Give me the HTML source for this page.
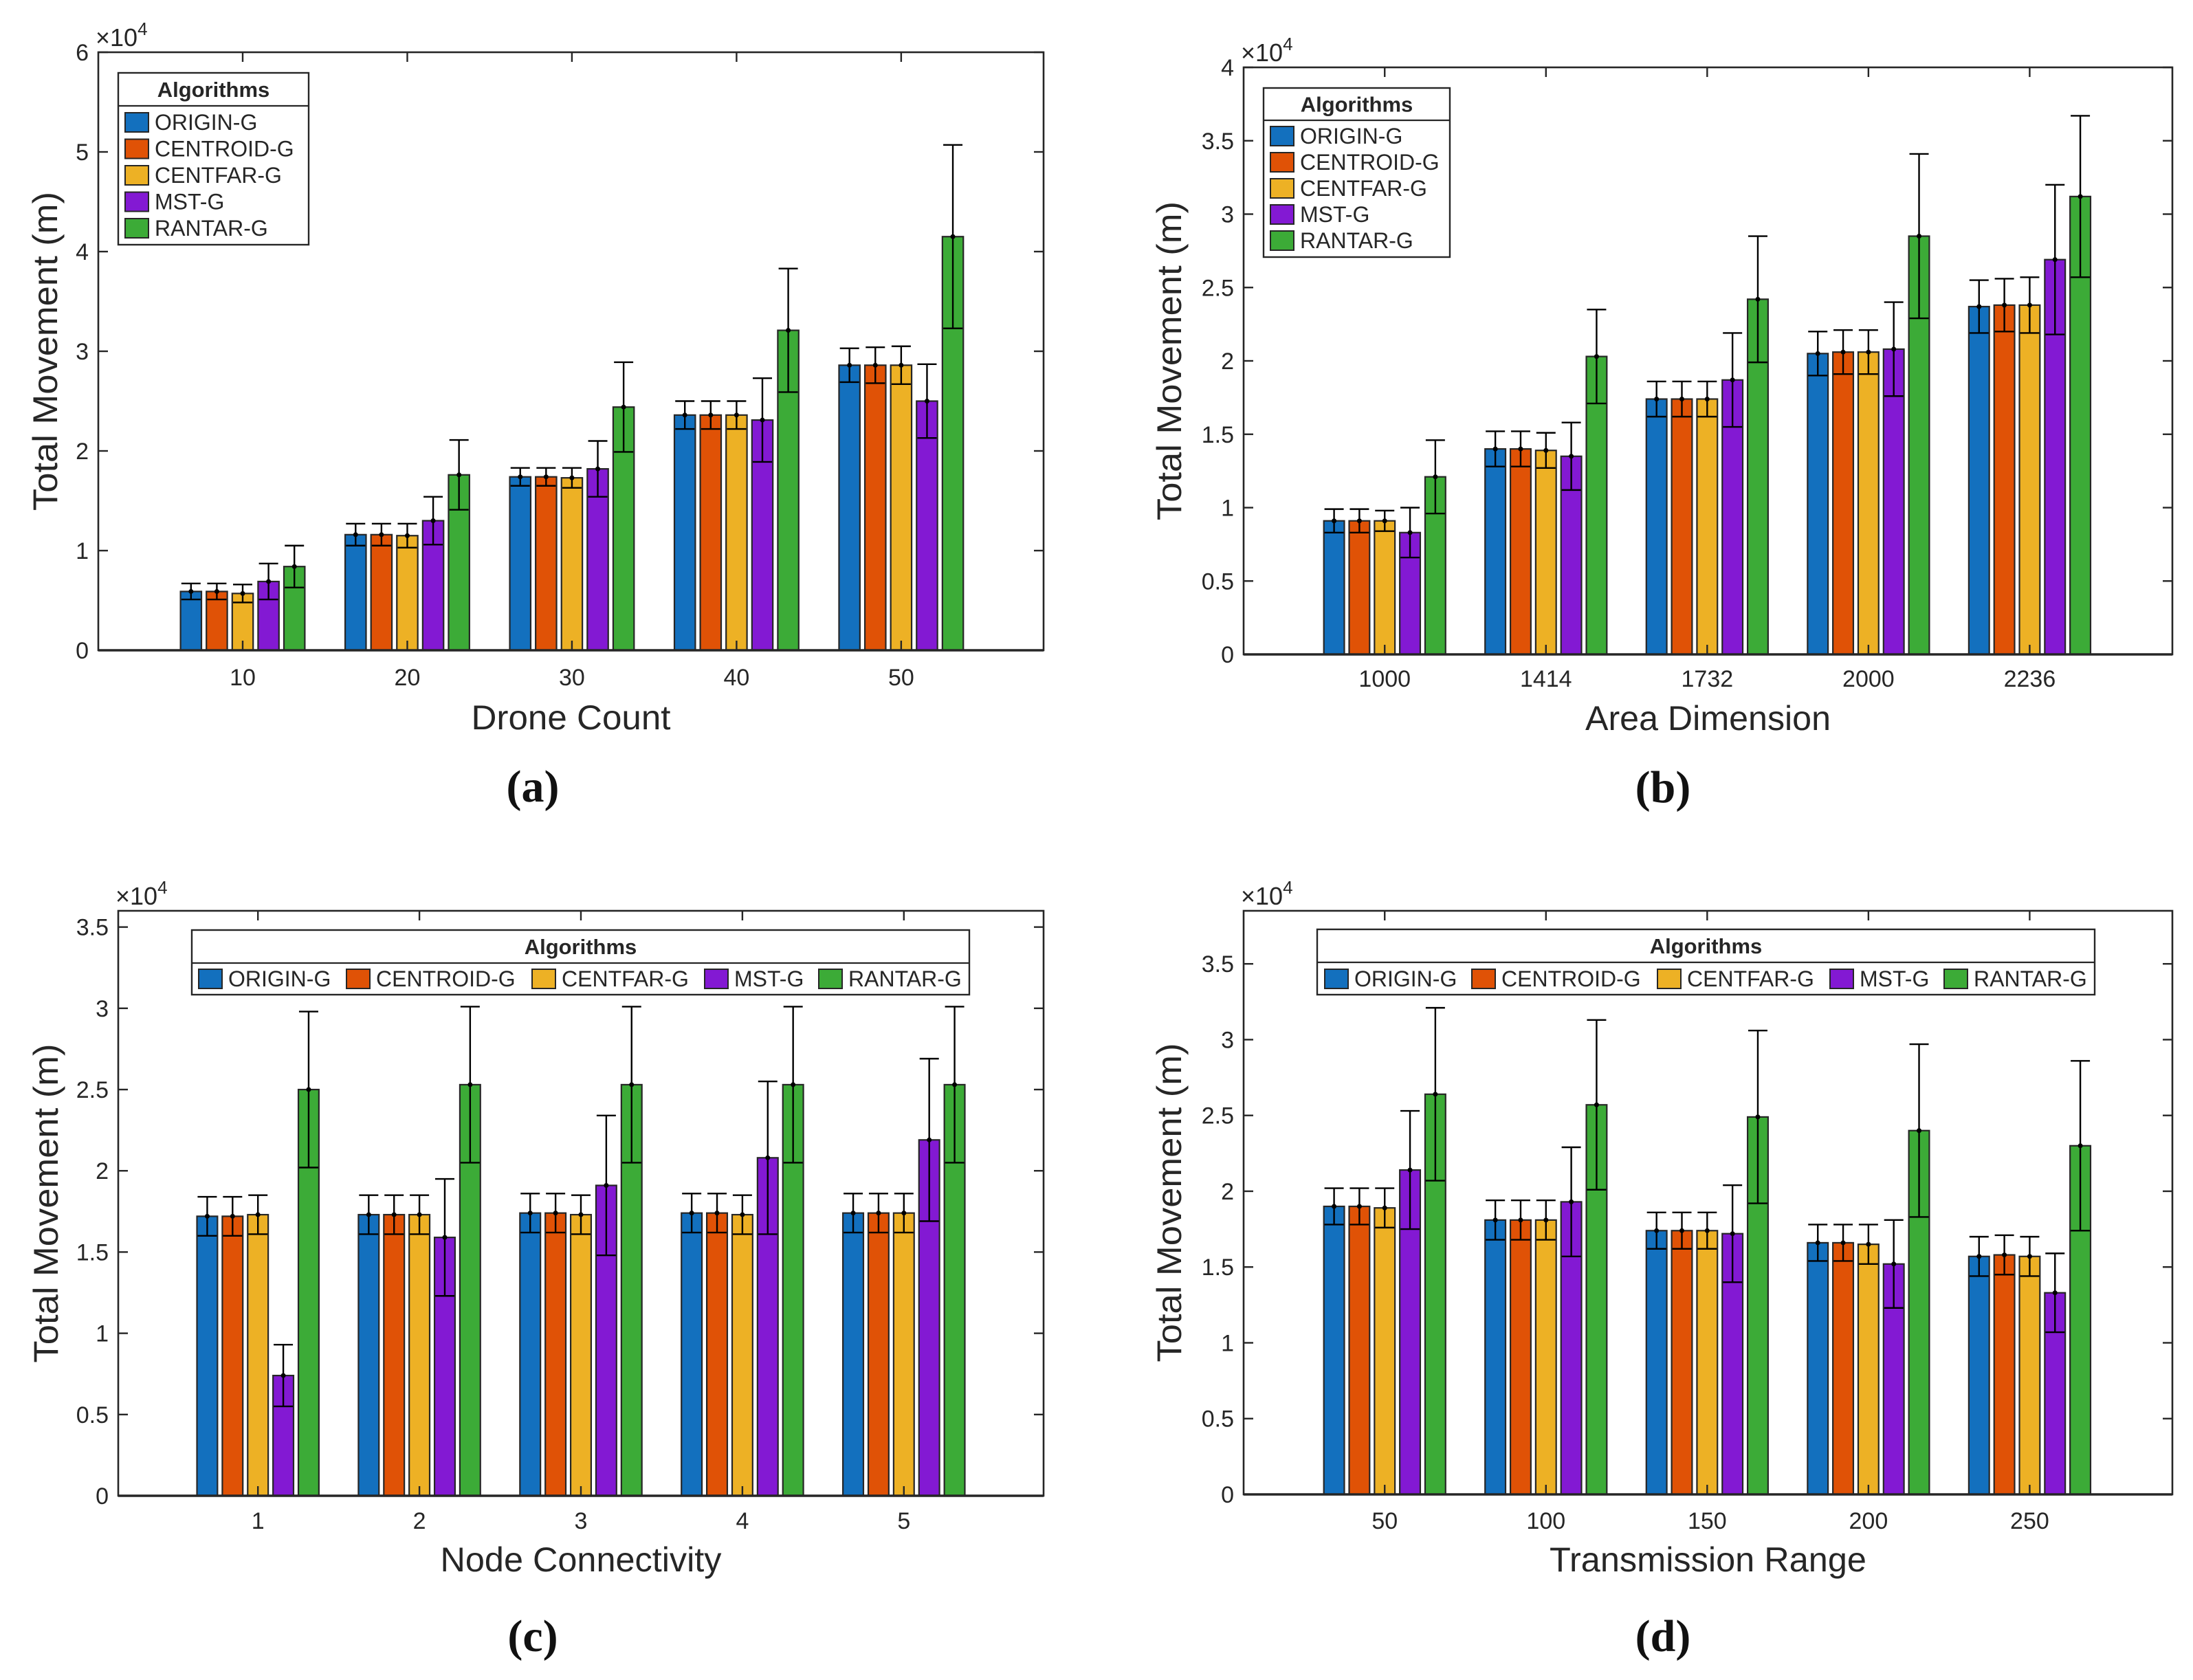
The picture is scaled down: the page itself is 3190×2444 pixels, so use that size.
<!DOCTYPE html>
<html><head><meta charset="utf-8"><title>Total Movement charts</title>
<style>
html,body{margin:0;padding:0;background:#fff;}
svg{display:block;}
text{font-family:"Liberation Sans",Arial,sans-serif;fill:#262626;}
.serif{font-family:"Liberation Serif","DejaVu Serif",serif;font-weight:bold;fill:#111;}
</style></head>
<body>
<svg id="chart" xmlns="http://www.w3.org/2000/svg" width="3190" height="2444" viewBox="0 0 3190 2444"></svg>
<script>
const seriesNames = ["ORIGIN-G","CENTROID-G","CENTFAR-G","MST-G","RANTAR-G"];
const seriesColors = ["#1370BE","#E05206","#EDB125","#8319D3","#3CAB37"];

const catsA = ["10","20","30","40","50"];
const meansA = [[0.59,1.16,1.74,2.36,2.86],[0.59,1.16,1.74,2.36,2.86],[0.57,1.15,1.73,2.36,2.86],[0.69,1.30,1.82,2.31,2.50],[0.84,1.76,2.44,3.21,4.15]];
const errsA  = [[0.08,0.11,0.09,0.14,0.17],[0.08,0.11,0.09,0.14,0.18],[0.09,0.12,0.10,0.14,0.19],[0.18,0.24,0.28,0.42,0.37],[0.21,0.35,0.45,0.62,0.92]];
const yTicksA = ["0","1","2","3","4","5","6"];

const catsB = ["1000","1414","1732","2000","2236"];
const meansB = [[0.91,1.40,1.74,2.05,2.37],[0.91,1.40,1.74,2.06,2.38],[0.91,1.39,1.74,2.06,2.38],[0.83,1.35,1.87,2.08,2.69],[1.21,2.03,2.42,2.85,3.12]];
const errsB  = [[0.08,0.12,0.12,0.15,0.18],[0.08,0.12,0.12,0.15,0.18],[0.07,0.12,0.12,0.15,0.19],[0.17,0.23,0.32,0.32,0.51],[0.25,0.32,0.43,0.56,0.55]];
const yTicksB = ["0","0.5","1","1.5","2","2.5","3","3.5","4"];

const catsC = ["1","2","3","4","5"];
const meansC = [[1.72,1.73,1.74,1.74,1.74],[1.72,1.73,1.74,1.74,1.74],[1.73,1.73,1.73,1.73,1.74],[0.74,1.59,1.91,2.08,2.19],[2.50,2.53,2.53,2.53,2.53]];
const errsC  = [[0.12,0.12,0.12,0.12,0.12],[0.12,0.12,0.12,0.12,0.12],[0.12,0.12,0.12,0.12,0.12],[0.19,0.36,0.43,0.47,0.50],[0.48,0.48,0.48,0.48,0.48]];
const yTicksC = ["0","0.5","1","1.5","2","2.5","3","3.5"];

const catsD = ["50","100","150","200","250"];
const meansD = [[1.90,1.81,1.74,1.66,1.57],[1.90,1.81,1.74,1.66,1.58],[1.89,1.81,1.74,1.65,1.57],[2.14,1.93,1.72,1.52,1.33],[2.64,2.57,2.49,2.40,2.30]];
const errsD  = [[0.12,0.13,0.12,0.12,0.13],[0.12,0.13,0.12,0.12,0.13],[0.13,0.13,0.12,0.13,0.13],[0.39,0.36,0.32,0.29,0.26],[0.57,0.56,0.57,0.57,0.56]];
const yTicksD = ["0","0.5","1","1.5","2","2.5","3","3.5"];

const svg = document.getElementById('chart');
const NS = "http://www.w3.org/2000/svg";
function mk(tag, attrs, parent){ const e=document.createElementNS(NS,tag); for(const k in attrs) e.setAttribute(k,attrs[k]); (parent||svg).appendChild(e); return e; }

function drawPanel(p, cats, means, errs, yTicks){
  const g = mk('g',{});
  
  
  const xs = v => p.L + (v - p.x0) / (p.x1 - p.x0) * (p.R - p.L);
  const ys = v => p.B - v / p.ymax * (p.B - p.T);
  const ink = "#262626";
  for(let s=0;s<means.length;s++){
    for(let i=0;i<cats.length;i++){
      const cx = xs(i+1 + (s-2)*0.157);
      const w = 0.127/(p.x1-p.x0)*(p.R-p.L);
      const y = ys(means[s][i]);
      const r = mk('rect',{x:cx-w/2,y:y,width:w,height:p.B-y,fill:seriesColors[s],stroke:ink,'stroke-width':2.2},g);
      
      
    }
  }
  for(let s=0;s<means.length;s++){
    for(let i=0;i<cats.length;i++){
      const cx = xs(i+1 + (s-2)*0.157);
      const m = means[s][i], e = errs[s][i];
      const eg = mk('g',{stroke:'#000','stroke-width':2.4},g);
      
      
      mk('line',{x1:cx,x2:cx,y1:ys(m-e),y2:ys(m+e)},eg);
      mk('line',{x1:cx-14,x2:cx+14,y1:ys(m+e),y2:ys(m+e)},eg);
      mk('line',{x1:cx-14,x2:cx+14,y1:ys(m-e),y2:ys(m-e)},eg);
      mk('circle',{cx:cx,cy:ys(m),r:3.5,fill:'#000',stroke:'none'},eg);
    }
  }
  const box = mk('rect',{x:p.L,y:p.T,width:p.R-p.L,height:p.B-p.T,fill:'none',stroke:ink,'stroke-width':2.6},g);
  
  
  mk('line',{x1:p.L,x2:p.R,y1:p.B,y2:p.B,stroke:ink,'stroke-width':3.5},g);
  const yg = mk('g',{},g);
  
  
  for(let k=0;k<yTicks.length;k++){
    const v = parseFloat(yTicks[k]);
    const y = ys(v);
    mk('line',{x1:p.L,x2:p.L+14,y1:y,y2:y,stroke:ink,'stroke-width':2.4},yg);
    mk('line',{x1:p.R,x2:p.R-14,y1:y,y2:y,stroke:ink,'stroke-width':2.4},yg);
    const t = mk('text',{x:p.L-14,y:y+12,'font-size':34,'text-anchor':'end'},yg);
    t.textContent = yTicks[k];
    
    
  }
  const xg = mk('g',{},g);
  
  
  for(let i=0;i<cats.length;i++){
    const x = xs(i+1);
    mk('line',{x1:x,x2:x,y1:p.B,y2:p.B-14,stroke:ink,'stroke-width':2.4},xg);
    mk('line',{x1:x,x2:x,y1:p.T,y2:p.T+14,stroke:ink,'stroke-width':2.4},xg);
    const t = mk('text',{x:x,y:p.xl+12,'font-size':34,'text-anchor':'middle'},xg);
    t.textContent = cats[i];
    
    
  }
  const ex = mk('text',{x:p.L-4,y:p.T-9,'font-size':36},g);
  
  
  ex.innerHTML = '×10<tspan dy="-16" font-size="26">4</tspan>';
  const xt = mk('text',{x:(p.L+p.R)/2,y:p.xt+17,'font-size':50,'text-anchor':'middle',textLength:p.xtw,lengthAdjust:'spacingAndGlyphs'},g);
  xt.textContent = p.xTitle;
  
  
  const yt = mk('text',{x:0,y:0,'font-size':50,'text-anchor':'middle',textLength:464,lengthAdjust:'spacingAndGlyphs',transform:`translate(${p.ytx+17},${(p.T+p.B)/2}) rotate(-90)`},g);
  yt.textContent = "Total Movement (m)";
  
  
  const sl = mk('text',{x:p.slx,y:p.sl+20,'font-size':66,'text-anchor':'middle',class:'serif'},g);
  sl.textContent = '(' + p.id + ')';
  
  
  const lg = mk('g',{},g);
  
  
  const Lg = p.leg;
  mk('rect',{x:Lg.x,y:Lg.y,width:Lg.w,height:Lg.h,fill:'#fff',stroke:ink,'stroke-width':2.4},lg);
  mk('line',{x1:Lg.x,x2:Lg.x+Lg.w,y1:Lg.sep,y2:Lg.sep,stroke:ink,'stroke-width':2.2},lg);
  const lt = mk('text',{x:Lg.x+Lg.w/2,y:(Lg.y+Lg.sep)/2+11,'font-size':31,'font-weight':'bold','text-anchor':'middle'},lg);
  lt.textContent = "Algorithms";
  
  
  for(let s=0;s<seriesNames.length;s++){
    const ix = Lg.vertical ? Lg.x+10 : Lg.sx[s];
    const iy = Lg.vertical ? Lg.row0 + s*Lg.rowH : Lg.row0;
    const eg = mk('g',{},lg);
    
    
    mk('rect',{x:ix,y:iy-14,width:34,height:28,fill:seriesColors[s],stroke:ink,'stroke-width':2},eg);
    const tt = mk('text',{x:ix+43,y:iy+11,'font-size':32},eg);
    tt.textContent = seriesNames[s];
  }
}

drawPanel({id:'a',L:143,R:1518,T:76,B:946,x0:0.123,x1:5.865,ymax:6,xl:985,xt:1044,xtw:290,ytx:66,sl:1146,slx:775,xTitle:"Drone Count",
  leg:{vertical:true,x:172,y:106,w:277,h:250,sep:154,row0:178,rowH:38.5}}, catsA, meansA, errsA, yTicksA);
drawPanel({id:'b',L:1809,R:3160,T:98,B:952,x0:0.125,x1:5.885,ymax:4,xl:987,xt:1045,xtw:357,ytx:1701,sl:1147,slx:2419,xTitle:"Area Dimension",
  leg:{vertical:true,x:1838,y:128,w:271,h:246,sep:175,row0:198,rowH:38}}, catsB, meansB, errsB, yTicksB);
drawPanel({id:'c',L:172,R:1518,T:1325,B:2176,x0:0.135,x1:5.865,ymax:3.6,xl:2212,xt:2269,xtw:409,ytx:67,sl:2382,slx:775,xTitle:"Node Connectivity",
  leg:{vertical:false,x:279,y:1353,w:1131,h:94,sep:1401,row0:1424,sx:[289,504,774,1025,1191]}}, catsC, meansC, errsC, yTicksC);
drawPanel({id:'d',L:1809,R:3160,T:1325,B:2174,x0:0.125,x1:5.885,ymax:3.85,xl:2212,xt:2269,xtw:461,ytx:1701,sl:2382,slx:2419,xTitle:"Transmission Range",
  leg:{vertical:false,x:1916,y:1352,w:1131,h:95,sep:1400,row0:1424,sx:[1927,2141,2411,2662,2828]}}, catsD, meansD, errsD, yTicksD);
</script>
</body></html>
